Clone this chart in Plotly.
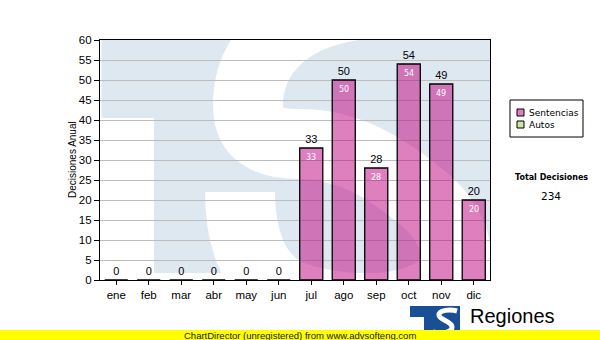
import plotly.graph_objects as go

# ---------------- data ----------------
months = ["ene", "feb", "mar", "abr", "may", "jun", "jul", "ago", "sep", "oct", "nov", "dic"]
sentencias = [0, 0, 0, 0, 0, 0, 33, 50, 28, 54, 49, 20]
autos = [0, 0, 0, 0, 0, 0, 0, 0, 0, 0, 0, 0]
series_names = ["Sentencias", "Autos"]
y_ticks = [0, 5, 10, 15, 20, 25, 30, 35, 40, 45, 50, 55, 60]
y_title = "Decisiones Anual"
total_title = "Total Decisiones"
total_value = sum(sentencias) + sum(autos)
footer = "ChartDirector (unregistered) from www.advsofteng.com"
brand = "Regiones"

# ---------------- geometry helpers ----------------
W, H = 600, 340
L, R, T, B = 100, 110, 40, 60
PW, PH = W - L - R, H - T - B
X_MIN, X_MAX = -0.5, 11.5
Y_MIN, Y_MAX = 0, 60


def dx(px):
    return X_MIN + (px - L) / PW * (X_MAX - X_MIN)


def dy(py):
    return Y_MIN + (T + PH - py) / PH * (Y_MAX - Y_MIN)


def ppx(px):
    return (px - L) / PW


def ppy(py):
    return (T + PH - py) / PH


def path_str(cmds, fx, fy):
    s = []
    for c, pts in cmds:
        s.append(c + " " + " ".join(f"{fx(x):.4f},{fy(y):.4f}" for x, y in pts))
    return " ".join(s)


WM_BLUE = "#dee8f1"
PINK_FILL = "rgba(190,0,125,0.5)"
FONT_A = "Liberation Sans, Arial, sans-serif"
FONT_V = "DejaVu Sans, Verdana, sans-serif"

shapes = []
# watermark logo (big light-blue "TS")
shapes.append(dict(type="rect", xref="x", yref="y", layer="below",
                   x0=dx(101.5), x1=dx(560), y0=dy(273), y1=dy(-20),
                   fillcolor=WM_BLUE, line=dict(width=0)))
shapes.append(dict(type="rect", xref="x", yref="y", layer="below",
                   x0=dx(90), x1=dx(154), y0=dy(290), y1=dy(118),
                   fillcolor="white", line=dict(width=0)))
s_cmds = [
    ("M", [(540, -10)]),
    ("C", [(430, -5), (375, 0), (340, 8)]),
    ("C", [(285, 20), (248, 55), (248, 105)]),
    ("C", [(248, 135), (268, 144), (300, 144)]),
    ("C", [(350, 144), (390, 170), (425, 200)]),
    ("C", [(460, 230), (470, 275), (430, 295)]),
    ("C", [(390, 315), (330, 310), (290, 295)]),
    ("C", [(255, 280), (240, 240), (240, 192)]),
]
shapes.append(dict(type="path", xref="x", yref="y", layer="below",
                   path=path_str(s_cmds, dx, dy),
                   fillcolor="rgba(0,0,0,0)", line=dict(color="white", width=70)))

# legend box
shapes.append(dict(type="rect", xref="paper", yref="paper",
                   x0=ppx(510), x1=ppx(583), y0=ppy(137), y1=ppy(100),
                   fillcolor="white", line=dict(color="black", width=1)))
shapes.append(dict(type="rect", xref="paper", yref="paper",
                   x0=ppx(517), x1=ppx(524), y0=ppy(116), y1=ppy(109),
                   fillcolor="#de80be", line=dict(color="black", width=1)))
shapes.append(dict(type="rect", xref="paper", yref="paper",
                   x0=ppx(517), x1=ppx(524), y0=ppy(128), y1=ppy(121),
                   fillcolor="#cde6a0", line=dict(color="black", width=1)))

# small brand logo
shapes.append(dict(type="rect", xref="paper", yref="paper",
                   x0=ppx(410), x1=ppx(460), y0=ppy(341), y1=ppy(306),
                   fillcolor="#1a4f96", line=dict(width=0)))
shapes.append(dict(type="rect", xref="paper", yref="paper",
                   x0=ppx(410), x1=ppx(424), y0=ppy(341), y1=ppy(317),
                   fillcolor="white", line=dict(width=0)))
small_s = [
    ("M", [(457, 311)]),
    ("C", [(450, 309), (439, 310), (439, 315)]),
    ("C", [(439, 320), (452, 321), (452, 327)]),
    ("C", [(452, 333), (441, 334), (433, 332)]),
]
shapes.append(dict(type="path", xref="paper", yref="paper",
                   path=path_str(small_s, ppx, ppy),
                   fillcolor="rgba(0,0,0,0)", line=dict(color="white", width=5)))

# footer bar
shapes.append(dict(type="rect", xref="paper", yref="paper",
                   x0=ppx(-5), x1=ppx(605), y0=ppy(341), y1=ppy(330),
                   fillcolor="#ffff00", line=dict(width=0)))

xs = list(range(len(months)))

fig = go.Figure()
fig.add_trace(go.Bar(
    x=xs, y=sentencias, name=series_names[0], width=0.71,
    marker=dict(color=PINK_FILL, line=dict(color="black", width=1.3)),
    text=[str(v) for v in sentencias], textposition="outside",
    textfont=dict(family=FONT_A, size=11, color="black"),
    cliponaxis=False, showlegend=False, hoverinfo="x+y",
))

annotations = []
# value labels inside the bars (white, just under the top edge)
for x, v in zip(xs, sentencias):
    if v > 0:
        annotations.append(dict(text=str(v), x=x, y=v, xref="x", yref="y",
                                xanchor="center", yanchor="middle", yshift=-9,
                                showarrow=False,
                                font=dict(family=FONT_V, size=8, color="white")))

annotations += [
    dict(text=y_title, x=ppx(72), y=ppy(160), xref="paper", yref="paper",
         xanchor="center", yanchor="middle",
         textangle=-90, showarrow=False, font=dict(family=FONT_A, size=10, color="black")),
    dict(text=series_names[0], x=ppx(527), y=ppy(113), xref="paper", yref="paper",
         xanchor="left", yanchor="middle", showarrow=False,
         font=dict(family=FONT_V, size=9, color="black")),
    dict(text=series_names[1], x=ppx(527), y=ppy(125), xref="paper", yref="paper",
         xanchor="left", yanchor="middle", showarrow=False,
         font=dict(family=FONT_V, size=9, color="black")),
    dict(text=total_title, x=ppx(551), y=ppy(177), xref="paper", yref="paper",
         xanchor="center", yanchor="middle", showarrow=False,
         font=dict(family=FONT_V, size=8, color="black", weight="bold")),
    dict(text=str(total_value), x=ppx(551), y=ppy(196), xref="paper", yref="paper",
         xanchor="center", yanchor="middle", showarrow=False,
         font=dict(family=FONT_V, size=10.5, color="black")),
    dict(text=brand, x=ppx(468), y=ppy(316), xref="paper", yref="paper",
         xanchor="left", yanchor="middle", showarrow=False,
         font=dict(family=FONT_A, size=20, color="black")),
    dict(text=footer, x=ppx(300), y=ppy(335), xref="paper", yref="paper",
         xanchor="center", yanchor="middle", showarrow=False,
         font=dict(family=FONT_A, size=9.5, color="#202000")),
]

fig.update_layout(
    width=W, height=H,
    margin=dict(l=L, r=R, t=T, b=B, pad=0),
    paper_bgcolor="white", plot_bgcolor="white",
    showlegend=False,
    shapes=shapes, annotations=annotations,
    bargap=0.29,
    xaxis=dict(range=[X_MIN, X_MAX], tickmode="array", tickvals=xs, ticktext=months,
               ticks="outside", ticklen=4, tickcolor="black", tickwidth=1,
               showline=True, mirror=True, linecolor="black", linewidth=1.2,
               showgrid=False, zeroline=False, fixedrange=True,
               tickfont=dict(family=FONT_A, size=11.5, color="black")),
    yaxis=dict(range=[Y_MIN, Y_MAX], tickmode="array", tickvals=y_ticks,
               ticks="outside", ticklen=5, tickcolor="black", tickwidth=1,
               showline=True, mirror=True, linecolor="black", linewidth=1.2,
               showgrid=True, gridcolor="#bcbcbc", gridwidth=1,
               zeroline=False, fixedrange=True,
               tickfont=dict(family=FONT_A, size=11.5, color="black")),
)

fig.write_html("out.html")
